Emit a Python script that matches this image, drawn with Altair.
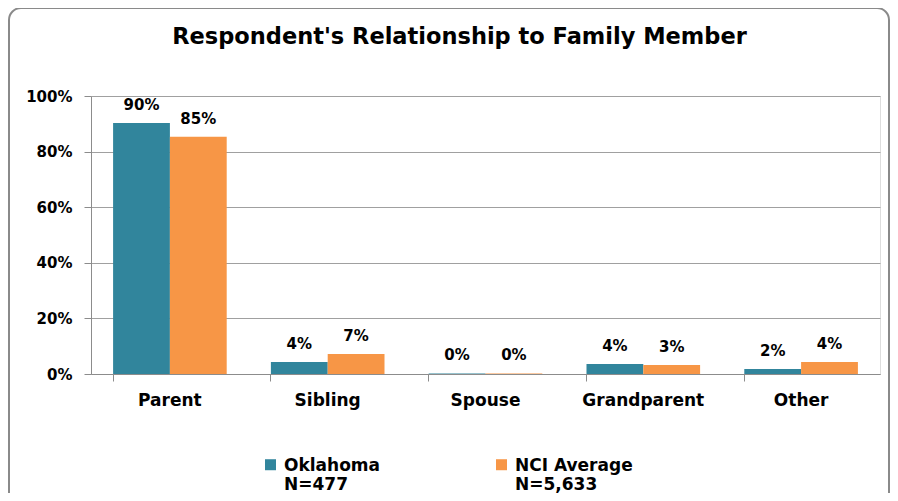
import altair as alt
import pandas as pd

categories = ["Parent", "Sibling", "Spouse", "Grandparent", "Other"]
series = ["Oklahoma", "NCI Average"]
series_n = ["N=477", "N=5,633"]
colors = ["#31859C", "#F79646"]
oklahoma = [90.3, 4.3, 0.2, 3.6, 1.8]
nci = [85.3, 7.2, 0.2, 3.2, 4.3]
oklahoma_labels = ["90%", "4%", "0%", "4%", "2%"]
nci_labels = ["85%", "7%", "0%", "3%", "4%"]
y_ticks = [0, 20, 40, 60, 80, 100]

rows = []
for s, vals, labs in [(series[0], oklahoma, oklahoma_labels), (series[1], nci, nci_labels)]:
    for c, v, l in zip(categories, vals, labs):
        rows.append({"category": c, "series": s, "value": v, "label": l})
df = pd.DataFrame(rows)

FONT = "DejaVu Sans"

legend_expr = " : ".join(
    f"datum.label == '{s}' ? ['{s}', '{n}']" for s, n in zip(series, series_n)
) + " : datum.label"

x_enc = alt.X(
    "category:N",
    sort=categories,
    scale=alt.Scale(paddingInner=0.28, paddingOuter=0.14),
    axis=alt.Axis(
        title=None, labelAngle=0, labelFont=FONT, labelFontSize=17,
        labelFontWeight="bold", labelColor="#000000", labelPadding=11,
        domainColor="#8C8C8C", tickColor="#8C8C8C", tickSize=7,
        bandPosition=0, grid=False,
    ),
)
y_enc = alt.Y(
    "value:Q",
    scale=alt.Scale(domain=[0, 100], nice=False),
    axis=alt.Axis(
        title=None, values=y_ticks, labelExpr="datum.value + '%'",
        labelFont=FONT, labelFontSize=15, labelFontWeight="bold",
        labelColor="#000000", labelPadding=12, domainColor="#8C8C8C",
        tickColor="#8C8C8C", tickSize=7, grid=True, gridColor="#A0A0A0",
        gridWidth=1,
    ),
)

bars = alt.Chart(df).mark_bar().encode(
    x=x_enc,
    y=y_enc,
    xOffset=alt.XOffset("series:N", sort=series),
    color=alt.Color(
        "series:N",
        sort=series,
        scale=alt.Scale(domain=series, range=colors),
        legend=alt.Legend(
            title=None, orient="none", direction="horizontal",
            legendX=171, legendY=353,
            symbolType="M-1,0.27H1V2.27H-1Z", symbolSize=121,
            symbolStrokeWidth=0, labelFont=FONT, labelFontSize=17,
            labelFontWeight="bold", labelColor="#000000", labelExpr=legend_expr,
            labelBaseline="top", labelOffset=5, columnPadding=112, padding=0,
            labelLimit=300,
        ),
    ),
)

texts = alt.Chart(df).mark_text(
    font=FONT, fontSize=15, fontWeight="bold", color="#000000",
    baseline="middle", dy=-18,
).encode(
    x=alt.X("category:N", sort=categories),
    y=alt.Y("value:Q"),
    xOffset=alt.XOffset("series:N", sort=series),
    text="label:N",
)

frame = alt.Chart(pd.DataFrame({"a": [0]})).mark_rect(
    fill=None, stroke="#8A8A8A", strokeWidth=2, cornerRadius=12, clip=False,
).encode(
    x=alt.value(-82), x2=alt.value(798), y=alt.value(-88), y2=alt.value(420),
)

chart = alt.layer(frame, bars, texts).properties(
    width=789, height=278,
    title=alt.TitleParams(
        "Respondent's Relationship to Family Member", font=FONT,
        fontSize=22.5, fontWeight="bold", color="#000000", anchor="middle",
        dx=-26, offset=-41,
    ),
    autosize=alt.AutoSizeParams(type="none"),
    padding={"left": 83, "top": 88, "right": 10, "bottom": 119},
).configure_view(fill="#EAEAEA", stroke=None).configure(background="#FFFFFF")

chart.save("out.html", embed_options={"renderer": "svg", "actions": False})
